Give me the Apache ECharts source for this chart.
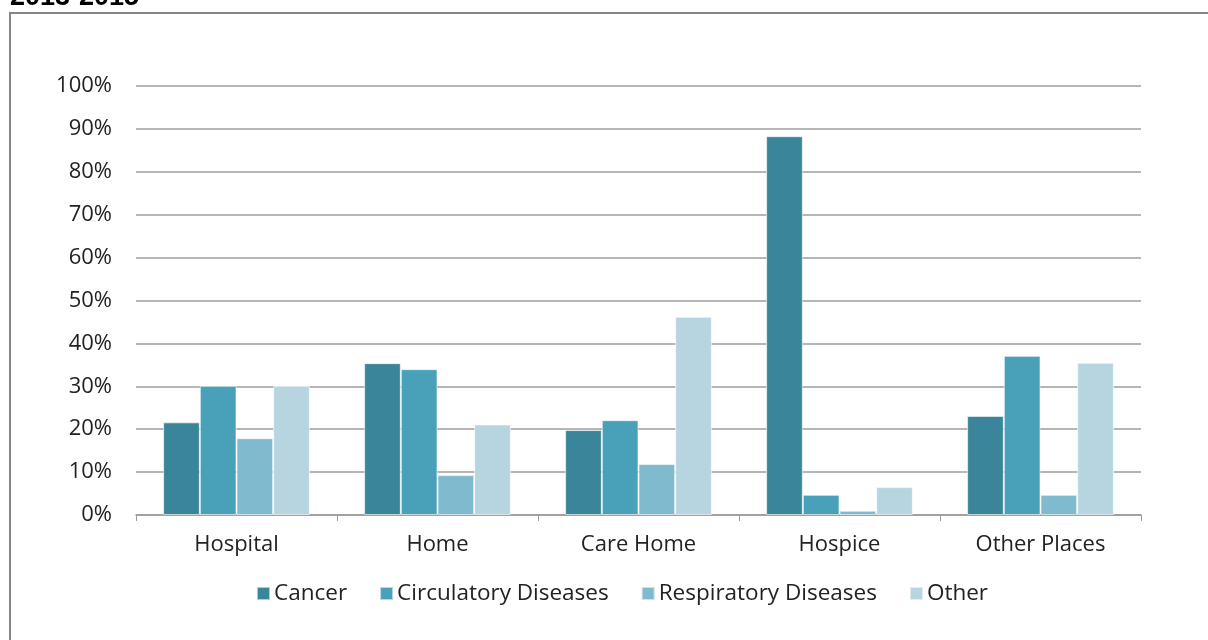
<!DOCTYPE html>
<html><head><meta charset="utf-8">
<script src="https://cdn.jsdelivr.net/npm/echarts@6/dist/echarts.min.js"></script>
<style>html,body{margin:0;padding:0;background:#fff}#c{width:1208px;height:640px}</style>
</head><body><div id="c"></div>
<script>
const categories = ['Hospital', 'Home', 'Care Home', 'Hospice', 'Other Places'];
const cancer = [21.6, 35.4, 19.8, 88.3, 23.1];
const circulatory = [30.1, 34.0, 22.1, 4.7, 37.1];
const respiratory = [17.9, 9.3, 11.9, 1.0, 4.7];
const other = [30.1, 21.1, 46.2, 6.5, 35.5];
const seriesNames = ['Cancer', 'Circulatory Diseases', 'Respiratory Diseases', 'Other'];
const colors = ['#3A8599', '#48A1B9', '#7FBACF', '#B7D5E0'];
const font = '"Open Sans", "Noto Sans", sans-serif';

const chart = echarts.init(document.getElementById('c'));
const data = [cancer, circulatory, respiratory, other];
chart.setOption({
  animation: false,
  color: colors,
  graphic: [
    { type: 'text', left: 10, top: -16, style: { text: '2013-2015', font: 'bold 27px "Liberation Sans", Arial, sans-serif', fill: '#000' } },
    { type: 'rect', shape: { x: 10, y: 13, width: 1210, height: 640 }, style: { fill: 'none', stroke: '#858585', lineWidth: 2 } }
  ],
  grid: { left: 136, right: 67, top: 86, bottom: 125, containLabel: false },
  legend: {
    top: 577, left: 251, itemWidth: 13, itemHeight: 13, itemGap: 32,
    icon: 'rect',
    textStyle: { fontFamily: font, fontSize: 22.5, color: '#222', padding: [0, 0, 0, -1] },
    data: seriesNames
  },
  xAxis: {
    type: 'category', data: categories,
    axisLine: { lineStyle: { color: '#9a9a9a', width: 1.5 } },
    axisTick: { show: true, length: 6, lineStyle: { color: '#9a9a9a' } },
    axisLabel: { fontFamily: font, fontSize: 22, color: '#222', margin: 19 }
  },
  yAxis: {
    type: 'value', min: 0, max: 100, interval: 10,
    axisLine: { show: false }, axisTick: { show: false },
    splitLine: { lineStyle: { color: '#9e9e9e', width: 1.5 } },
    axisLabel: { fontFamily: font, fontSize: 22, color: '#222', margin: 24, formatter: v => v + '%' }
  },
  series: data.map((d, i) => ({
    name: seriesNames[i], type: 'bar', data: d,
    barGap: '0%', barCategoryGap: '27%',
    itemStyle: { color: colors[i], borderColor: 'rgba(255,255,255,0.6)', borderWidth: 1 }
  }))
});
</script></body></html>
